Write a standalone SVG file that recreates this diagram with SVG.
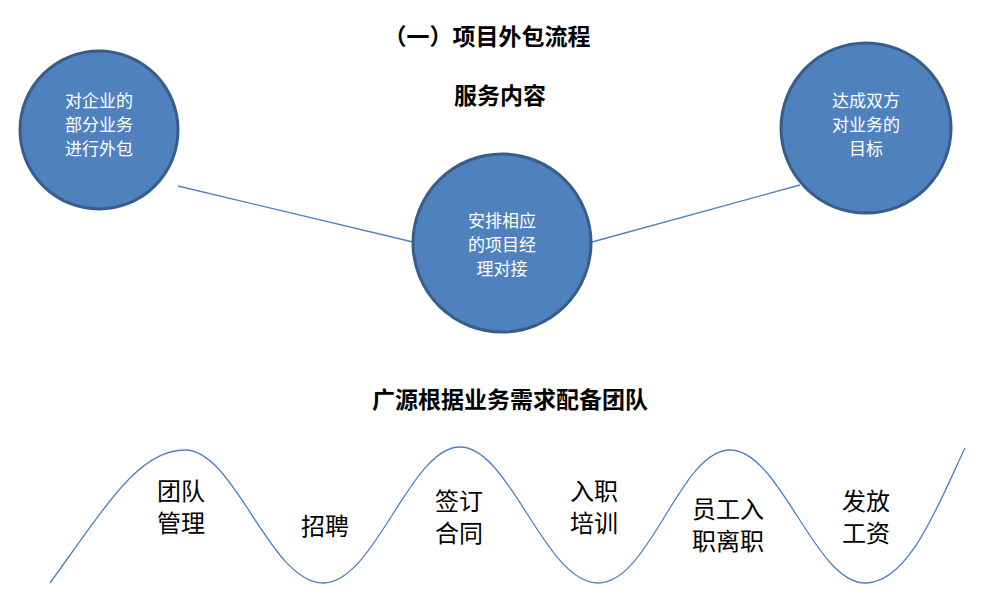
<svg xmlns="http://www.w3.org/2000/svg" width="1005" height="613" viewBox="0 0 1005 613">
<style>
.t{font-family:"Liberation Serif","Noto Sans CJK SC",serif;font-weight:bold;font-size:23px;fill:#000;text-anchor:middle}
.c{fill:#4F81BD;stroke:#385D8A;stroke-width:3}
.ct{font-family:"Liberation Sans","Noto Sans CJK SC",sans-serif;font-size:17px;fill:#fff;text-anchor:middle}
.w{font-family:"Liberation Serif","Noto Sans CJK SC",serif;font-size:24px;fill:#000;text-anchor:middle}
.l{stroke:#4F81BD;stroke-width:1.3;fill:none}
</style>
<rect width="1005" height="613" fill="#fff"/>
<text class="t" x="487" y="45">（一）项目外包流程</text>
<text class="t" x="500" y="104">服务内容</text>
<text class="t" x="510" y="408">广源根据业务需求配备团队</text>
<g id="connectors">
<line class="l" x1="178" y1="186" x2="413" y2="242"/>
<line class="l" x1="592" y1="242" x2="800" y2="185"/>
<path class="l" d="M50,583 C110,500 140,450 185,450 C235,450 270,583 323,583 C375,583 410,447 460,447 C510,447 545,583 598,583 C650,583 680,450 730,450 C780,450 815,583 865,583 C910,583 940,500 965,448"/>
</g>
<g id="n1"><circle class="c" cx="99" cy="130" r="79"/>
<text class="ct" x="99" y="107">对企业的</text><text class="ct" x="99" y="131">部分业务</text><text class="ct" x="99" y="155">进行外包</text></g>
<g id="n2"><circle class="c" cx="502" cy="243" r="89"/>
<text class="ct" x="502" y="227">安排相应</text><text class="ct" x="502" y="251">的项目经</text><text class="ct" x="502" y="275">理对接</text></g>
<g id="n3"><circle class="c" cx="866" cy="128" r="85"/>
<text class="ct" x="866" y="107">达成双方</text><text class="ct" x="866" y="131">对业务的</text><text class="ct" x="866" y="155">目标</text></g>
<g id="w1"><text class="w" x="181" y="500">团队</text><text class="w" x="181" y="532">管理</text></g>
<g id="w2"><text class="w" x="325" y="535">招聘</text></g>
<g id="w3"><text class="w" x="459" y="510">签订</text><text class="w" x="459" y="542">合同</text></g>
<g id="w4"><text class="w" x="594" y="500">入职</text><text class="w" x="594" y="532">培训</text></g>
<g id="w5"><text class="w" x="728" y="518">员工入</text><text class="w" x="728" y="550">职离职</text></g>
<g id="w6"><text class="w" x="866" y="510">发放</text><text class="w" x="866" y="542">工资</text></g>
</svg>
